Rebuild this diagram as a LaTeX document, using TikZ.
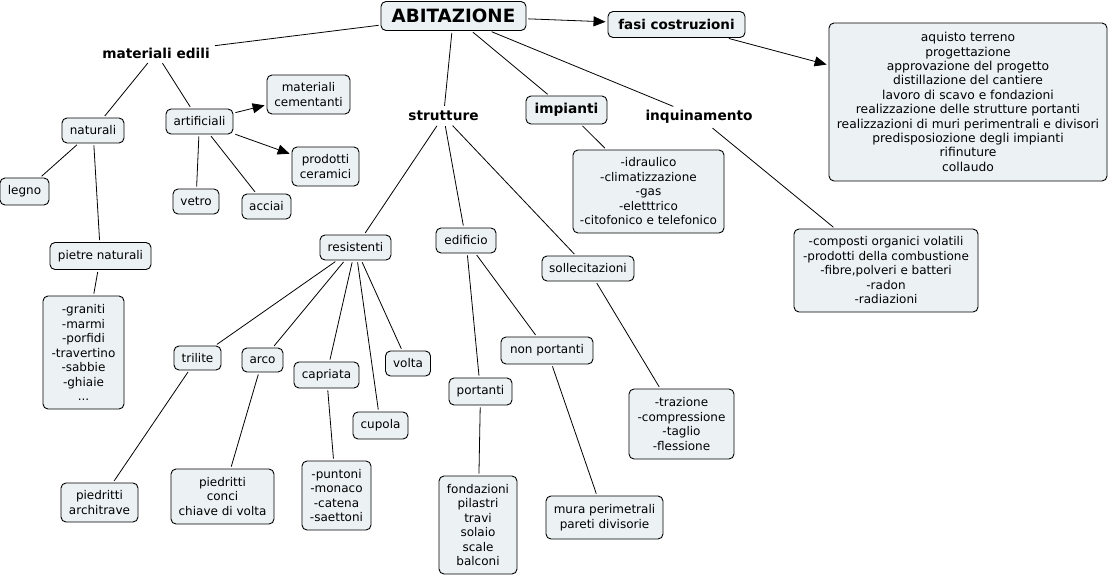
\documentclass[tikz,border=0pt]{standalone}
\usepackage{fontspec}
\setmainfont{DejaVu Sans}
\usetikzlibrary{arrows.meta}
\definecolor{boxfill}{RGB}{236,242,244}
\tikzset{
  box/.style={draw=black, line width=0.9pt, rounded corners=5pt, fill=boxfill, align=center,
    inner sep=0pt, font=\fontsize{12}{14.5}\selectfont},
  lab/.style={align=center, inner sep=3pt, font=\bfseries\fontsize{13.7}{15}\selectfont},
  conn/.style={line width=0.8pt, shorten <=2pt, shorten >=2pt},
  arr/.style={conn, -{Triangle[length=12pt,width=10pt]}},
}
\begin{document}
\begin{tikzpicture}[x=1pt,y=-1pt]
\useasboundingbox (0,0) rectangle (1109,576);
% top level
\node[box, minimum width=145pt, minimum height=29pt, font=\bfseries\fontsize{18.3}{20}\selectfont] (abit) at (453.5,16) {ABITAZIONE};
\node[box, minimum width=137pt, minimum height=26pt, font=\bfseries\fontsize{13.5}{15}\selectfont] (fasi) at (676.5,24.5) {fasi costruzioni};
\node[box, minimum width=278pt, minimum height=158pt, font=\fontsize{12.3}{14.4}\selectfont] (fasil) at (968,102) {aquisto terreno\\progettazione\\approvazione del progetto\\distillazione del cantiere\\lavoro di scavo e fondazioni\\realizzazione delle strutture portanti\\realizzazioni di muri perimentrali e divisori\\predisposiozione degli impianti\\rifinuture\\collaudo};
\node[lab] (matedili) at (156,53) {materiali edili};
\node[lab] (strutt) at (443.5,116) {strutture};
\node[box, minimum width=81pt, minimum height=28pt, font=\bfseries\fontsize{13.7}{15}\selectfont] (impianti) at (566.5,110) {impianti};
\node[lab] (inquin) at (699,117) {inquinamento};
\node[box, minimum width=151pt, minimum height=83pt] (impl) at (648.5,191.5) {-idraulico\\-climatizzazione\\-gas\\-eletttrico\\-citofonico e telefonico};
\node[box, minimum width=184pt, minimum height=83pt] (inql) at (886,270.5) {-composti organici volatili\\-prodotti della combustione\\-fibre,polveri e batteri\\-radon\\-radiazioni};
% materiali edili
\node[box, minimum width=62pt, minimum height=25pt] (natur) at (93,130.5) {naturali};
\node[box, minimum width=67pt, minimum height=25pt] (artif) at (199.5,121.5) {artificiali};
\node[box, minimum width=83pt, minimum height=39pt] (cement) at (308.5,94.5) {materiali\\cementanti};
\node[box, minimum width=67pt, minimum height=39pt] (ceram) at (325.5,166.5) {prodotti\\ceramici};
\node[box, minimum width=49pt, minimum height=27pt] (legno) at (24.5,191.5) {legno};
\node[box, minimum width=46pt, minimum height=25pt] (vetro) at (196,201.5) {vetro};
\node[box, minimum width=49pt, minimum height=25pt] (acciai) at (266.5,206.5) {acciai};
\node[box, minimum width=101pt, minimum height=27pt] (pietre) at (100.5,256) {pietre naturali};
\node[box, minimum width=81pt, minimum height=113pt] (granl) at (83.5,352.5) {-graniti\\-marmi\\-porfidi\\-travertino\\-sabbie\\-ghiaie\\...};
% strutture
\node[box, minimum width=71pt, minimum height=25pt] (resist) at (355.5,247.5) {resistenti};
\node[box, minimum width=47pt, minimum height=24pt] (trilite) at (197.5,358) {trilite};
\node[box, minimum width=41pt, minimum height=24pt] (arco) at (262.5,360) {arco};
\node[box, minimum width=65pt, minimum height=26pt] (capr) at (326.5,375) {capriata};
\node[box, minimum width=45pt, minimum height=25pt] (volta) at (408,363.5) {volta};
\node[box, minimum width=55pt, minimum height=27pt] (cupola) at (380.5,425.5) {cupola};
\node[box, minimum width=77pt, minimum height=39pt] (trill) at (99.5,502.5) {piedritti\\architrave};
\node[box, minimum width=103pt, minimum height=55pt] (arcol) at (222.5,496.5) {piedritti\\conci\\chiave di volta};
\node[box, minimum width=69pt, minimum height=69pt] (caprl) at (336.5,495.5) {-puntoni\\-monaco\\-catena\\-saettoni};
\node[box, minimum width=60pt, minimum height=25pt] (edif) at (466,240.5) {edificio};
\node[box, minimum width=92pt, minimum height=25pt] (solle) at (588,268.5) {sollecitazioni};
\node[box, minimum width=92pt, minimum height=27pt] (nonport) at (547,350.5) {non portanti};
\node[box, minimum width=63pt, minimum height=27pt] (port) at (480.5,391.5) {portanti};
\node[box, minimum width=78pt, minimum height=98pt] (portl) at (478,525) {fondazioni\\pilastri\\travi\\solaio\\scale\\balconi};
\node[box, minimum width=117pt, minimum height=43pt] (nonpl) at (604.5,517.5) {mura perimetrali\\pareti divisorie};
\node[box, minimum width=105pt, minimum height=70pt] (sollel) at (681.5,424) {-trazione\\-compressione\\-taglio\\-flessione};
% connectors
\draw[conn] (abit) -- (matedili);
\draw[arr] (abit) -- (fasi);
\draw[arr] (fasi) -- (fasil);
\draw[conn] (abit) -- (strutt);
\draw[conn] (abit) -- (impianti);
\draw[conn] (abit) -- (inquin);
\draw[conn] (impianti) -- (impl);
\draw[conn] (inquin) -- (inql);
\draw[conn] (matedili) -- (natur);
\draw[conn] (matedili) -- (artif);
\draw[arr] (artif) -- (cement);
\draw[arr] (artif) -- (ceram);
\draw[conn] (artif) -- (vetro);
\draw[conn] (artif) -- (acciai);
\draw[conn] (natur) -- (legno);
\draw[conn] (natur) -- (pietre);
\draw[conn] (pietre) -- (granl);
\draw[conn] (strutt) -- (resist);
\draw[conn] (strutt) -- (edif);
\draw[conn] (strutt) -- (solle);
\draw[conn] (resist) -- (trilite);
\draw[conn] (resist) -- (arco);
\draw[conn] (resist) -- (capr);
\draw[conn] (resist) -- (cupola);
\draw[conn] (resist) -- (volta);
\draw[conn] (trilite) -- (trill);
\draw[conn] (arco) -- (arcol);
\draw[conn] (capr) -- (caprl);
\draw[conn] (edif) -- (port);
\draw[conn] (edif) -- (nonport);
\draw[conn] (port) -- (portl);
\draw[conn] (nonport) -- (nonpl);
\draw[conn] (solle) -- (sollel);
\end{tikzpicture}
\end{document}
